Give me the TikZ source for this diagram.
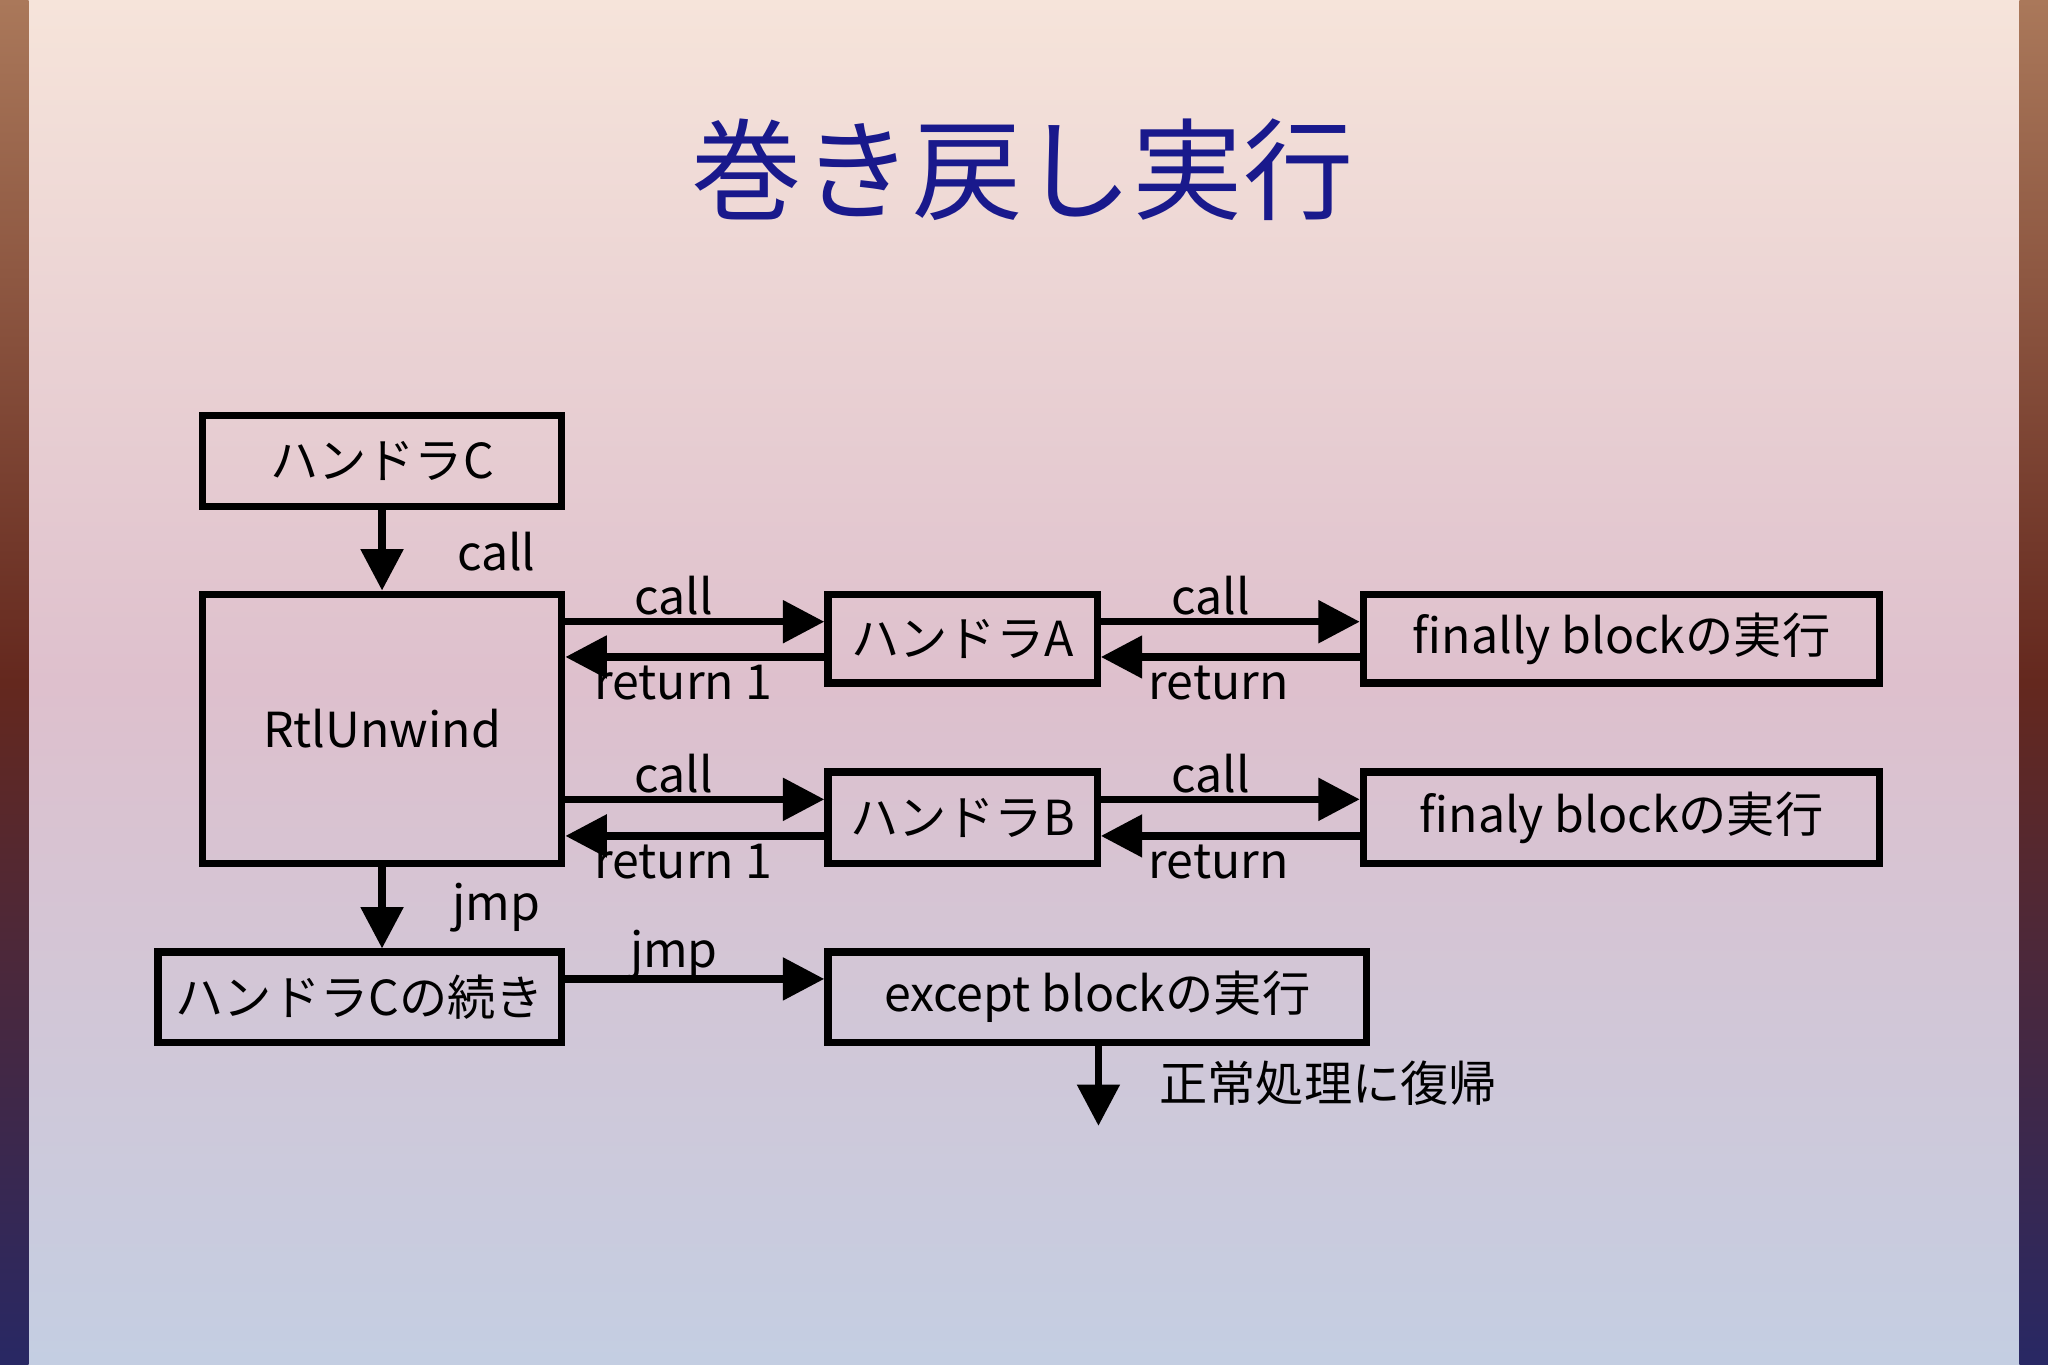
\documentclass[tikz,border=0pt]{standalone}
\usepackage{fontspec}
\setmainfont{Noto Sans CJK JP}
\usetikzlibrary{arrows.meta,calc}
\definecolor{navy}{RGB}{25,25,140}
\definecolor{bgtop}{RGB}{246,228,218}
\definecolor{bgmid}{RGB}{222,192,205}
\definecolor{bgbot}{RGB}{196,206,226}
\definecolor{sidetop}{RGB}{170,120,90}
\definecolor{sidemid}{RGB}{100,40,30}
\definecolor{sidebot}{RGB}{40,40,100}
\begin{document}
\begin{tikzpicture}[x=0.01cm,y=-0.01cm,
  box/.style={draw,line width=1.6pt,inner sep=0pt,font=\fontsize{10.5pt}{12pt}\selectfont},
  arr/.style={line width=1.6pt,-{Triangle[length=9pt,width=9pt]}},
  lbl/.style={font=\fontsize{10.5pt}{12pt}\selectfont,inner sep=0pt}]
\useasboundingbox (0,0) rectangle (1568,1045);
\shade[top color=bgtop,bottom color=bgbot,middle color=bgmid] (22,0) rectangle (1546,1045);
\shade[top color=sidetop,bottom color=sidebot,middle color=sidemid] (0,0) rectangle (22,1045);
\shade[top color=sidetop,bottom color=sidebot,middle color=sidemid] (1546,0) rectangle (1568,1045);
\node[text=navy,font=\fontsize{24pt}{30pt}\selectfont] (title) at (783,130) {巻き戻し実行};
\node[box,minimum width=2.75cm,minimum height=0.70cm] (hc) at (292.5,353) {ハンドラC};
\node[box,minimum width=2.75cm,minimum height=2.06cm] (rtl) at (292.5,558) {RtlUnwind};
\node[box,minimum width=2.06cm,minimum height=0.68cm] (ha) at (737,489) {ハンドラA};
\node[box,minimum width=3.95cm,minimum height=0.68cm] (fa) at (1241.5,489) {finally blockの実行};
\node[box,minimum width=2.06cm,minimum height=0.70cm] (hb) at (737,626) {ハンドラB};
\node[box,minimum width=3.95cm,minimum height=0.70cm] (fb) at (1241.5,626) {finaly blockの実行};
\node[box,minimum width=3.09cm,minimum height=0.69cm] (cc) at (275.5,763.5) {ハンドラCの続き};
\node[box,minimum width=4.12cm,minimum height=0.69cm] (ex) at (840,763.5) {except blockの実行};
\coordinate (end) at (841,862);
\draw[arr] (hc.south) -- (rtl.north);
\draw[arr] ($(rtl.east|-ha.west)+(0,-13)$) -- ($(ha.west)+(0,-13)$);
\draw[arr] ($(ha.west)+(0,14)$) -- ($(rtl.east|-ha.west)+(0,14)$);
\draw[arr] ($(ha.east)+(0,-13)$) -- ($(fa.west)+(0,-13)$);
\draw[arr] ($(fa.west)+(0,14)$) -- ($(ha.east)+(0,14)$);
\draw[arr] ($(rtl.east|-hb.west)+(0,-14)$) -- ($(hb.west)+(0,-14)$);
\draw[arr] ($(hb.west)+(0,14)$) -- ($(rtl.east|-hb.west)+(0,14)$);
\draw[arr] ($(hb.east)+(0,-14)$) -- ($(fb.west)+(0,-14)$);
\draw[arr] ($(fb.west)+(0,14)$) -- ($(hb.east)+(0,14)$);
\draw[arr] (rtl.south) -- (rtl.south |- cc.north);
\draw[arr] ($(cc.east)+(0,-14)$) -- ($(ex.west)+(0,-14)$);
\draw[arr] (ex.south -| end) -- (end);
\node[lbl] (l1) at (380,422) {call};
\node[lbl] (l2) at (516,456) {call};
\node[lbl] (l3) at (523,523) {return 1};
\node[lbl] (l4) at (927,456) {call};
\node[lbl] (l5) at (933,523) {return};
\node[lbl] (l6) at (516,592) {call};
\node[lbl] (l7) at (523,660) {return 1};
\node[lbl] (l8) at (927,592) {call};
\node[lbl] (l9) at (933,660) {return};
\node[lbl] (l10) at (380,695) {jmp};
\node[lbl] (l11) at (516,731) {jmp};
\node[lbl] (l12) at (1017,829) {正常処理に復帰};
\end{tikzpicture}
\end{document}
